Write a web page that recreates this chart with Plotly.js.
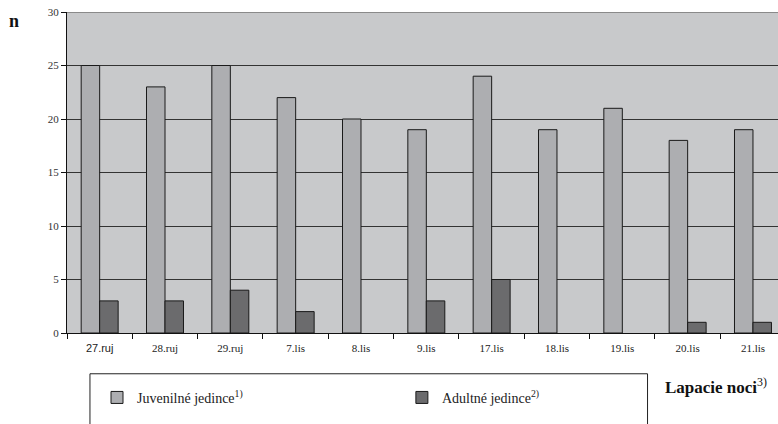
<!DOCTYPE html>
<html>
<head>
<meta charset="utf-8">
<script src="https://cdn.plot.ly/plotly-3.0.1.min.js"></script>
<style>
  html, body { margin: 0; padding: 0; background: #ffffff; }
  #chart { width: 778px; height: 424px; }
</style>
</head>
<body>
<div id="chart"></div>
<script>
// Capture nights and counts of individuals per night
const nights = ['27.ruj', '28.ruj', '29.ruj', '7.lis', '8.lis', '9.lis', '17.lis', '18.lis', '19.lis', '20.lis', '21.lis'];
const juvenile = [25, 23, 25, 22, 20, 19, 24, 19, 21, 18, 19];
const adult = [3, 3, 4, 2, 0, 3, 5, 0, 0, 1, 1];
const yTicks = [0, 5, 10, 15, 20, 25, 30];

const serif = "'Liberation Serif', 'Times New Roman', serif";
const sans = "'Liberation Sans', Arial, sans-serif";

// first night label is set in a sans face, the rest in serif
const nightLabels = nights.map((n, i) =>
  i === 0 ? '<span style="font-family:' + sans.replace(/'/g, '') + '">' + n + '</span>' : n);

// empty counts get no outline
const outline = vals => vals.map(v => (v > 0 ? 1 : 0));

const traces = [
  {
    type: 'bar',
    name: 'Juvenilné jedince<sup>1)</sup>',
    x: nights,
    y: juvenile,
    marker: { color: '#adaeb1', line: { color: '#1a1a1a', width: outline(juvenile) } },
    legend: 'legend',
    hoverinfo: 'x+y'
  },
  {
    type: 'bar',
    name: 'Adultné jedince<sup>2)</sup>',
    x: nights,
    y: adult,
    marker: { color: '#6b6b6d', line: { color: '#1a1a1a', width: outline(adult) } },
    legend: 'legend2',
    hoverinfo: 'x+y'
  }
];

const legendStyle = {
  orientation: 'h',
  xanchor: 'left',
  y: -0.202,
  yanchor: 'middle',
  bgcolor: 'rgba(0,0,0,0)',
  borderwidth: 0,
  font: { family: serif, size: 14, color: '#222222' }
};

const layout = {
  width: 778,
  height: 424,
  margin: { l: 67, r: 0, t: 12, b: 91 },
  paper_bgcolor: '#ffffff',
  plot_bgcolor: '#c8c9cb',
  barmode: 'group',
  bargap: 0.434,
  bargroupgap: 0,
  font: { family: serif, size: 11, color: '#222222' },
  showlegend: true,
  legend: Object.assign({ x: 0.0422 }, legendStyle),
  legend2: Object.assign({ x: 0.471 }, legendStyle),
  xaxis: {
    type: 'category',
    range: [-0.5, 10.383],
    tickmode: 'array',
    tickvals: nights,
    ticktext: nightLabels,
    showline: true,
    linecolor: '#111111',
    linewidth: 1,
    ticks: 'outside',
    tickson: 'boundaries',
    ticklen: 5,
    tickcolor: '#111111',
    ticklabelstandoff: 5,
    showgrid: false,
    tickfont: { family: serif, size: 11, color: '#222222' },
    fixedrange: true
  },
  yaxis: {
    range: [0, 30],
    tickvals: yTicks,
    showline: true,
    linecolor: '#111111',
    linewidth: 1,
    ticks: 'outside',
    ticklen: 5,
    tickcolor: '#111111',
    showgrid: true,
    gridcolor: '#333333',
    gridwidth: 1,
    zeroline: false,
    tickfont: { family: serif, size: 11, color: '#333333' },
    fixedrange: true
  },
  shapes: [
    // lighter border along the top of the plot
    { type: 'line', xref: 'paper', yref: 'y', x0: 0, x1: 1, y0: 30, y1: 30,
      line: { color: '#8a8a8a', width: 2 } },
    // legend frame
    { type: 'rect', xref: 'paper', yref: 'paper', x0: 0.0323, x1: 0.8165, y0: -0.127, y1: -0.32,
      line: { color: '#222222', width: 1 }, fillcolor: 'rgba(0,0,0,0)' }
  ],
  annotations: [
    { text: '<b>n</b>', xref: 'paper', yref: 'paper', x: -0.085, y: 0.972,
      xanchor: 'left', yanchor: 'middle', showarrow: false,
      font: { family: serif, size: 18, color: '#111111' } },
    { text: '<b>Lapacie noci</b><sup>3)</sup>', xref: 'paper', yref: 'paper', x: 0.838, y: -0.165,
      xanchor: 'left', yanchor: 'middle', showarrow: false,
      font: { family: serif, size: 17, color: '#111111' } }
  ]
};

Plotly.newPlot('chart', traces, layout, { displayModeBar: false, staticPlot: true });
</script>
</body>
</html>
